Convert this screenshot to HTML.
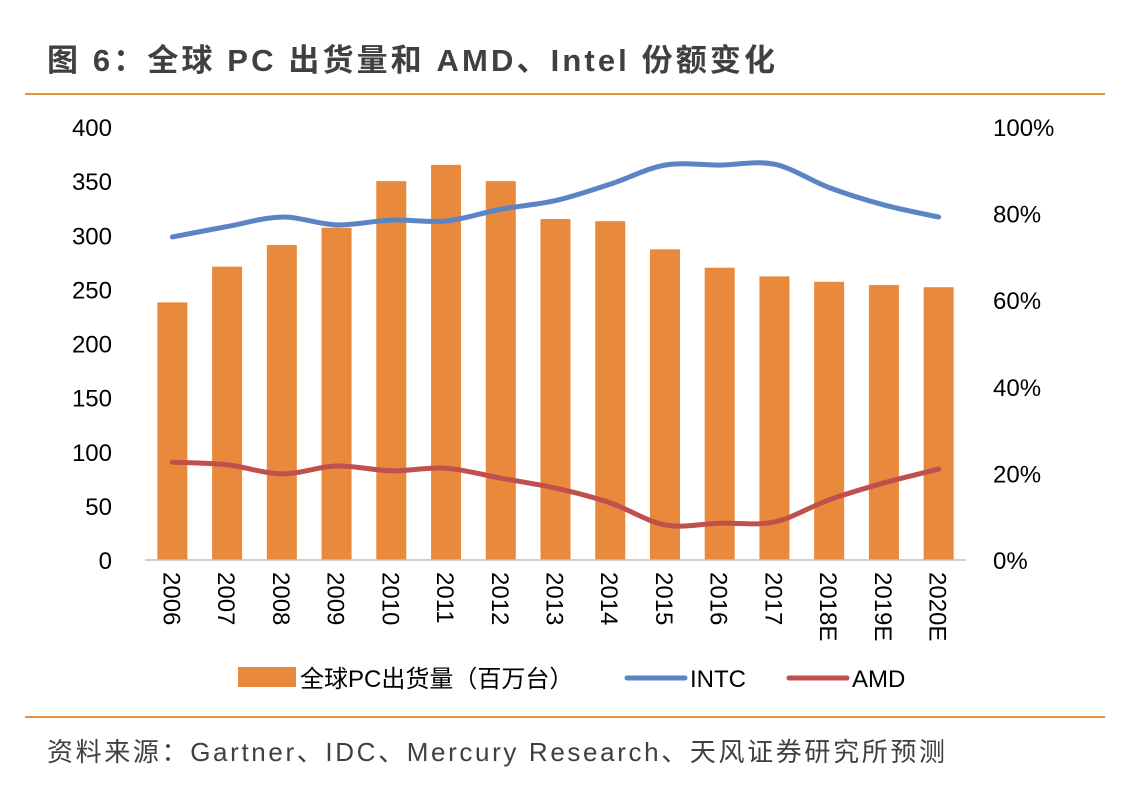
<!DOCTYPE html>
<html><head><meta charset="utf-8">
<style>
body{margin:0;width:1125px;height:805px;background:#fff;font-family:"Liberation Sans","Noto Sans CJK SC",sans-serif;overflow:hidden}
</style></head>
<body>
<svg width="1125" height="805" xmlns="http://www.w3.org/2000/svg" id="chart">
<text x="47" y="71" font-size="31" font-weight="bold" fill="#404040" textLength="728" lengthAdjust="spacing" font-family="Liberation Sans,Noto Sans CJK SC,sans-serif">图 6：全球 PC 出货量和 AMD、Intel 份额变化</text>
<line x1="25" y1="94" x2="1105" y2="94" stroke="#E8913B" stroke-width="2"/>
<line x1="25" y1="717" x2="1105" y2="717" stroke="#E8913B" stroke-width="2"/>
<text x="47" y="761" font-size="26" fill="#404040" textLength="898" lengthAdjust="spacing" font-family="Liberation Sans,Noto Sans CJK SC,sans-serif">资料来源：Gartner、IDC、Mercury Research、天风证券研究所预测</text>
<g id="plot"></g>
<g id="legend">
<rect x="238" y="667" width="58" height="20" fill="#E8893B"/>
<text x="300" y="687" font-size="24" fill="#000">全球PC出货量（百万台）</text>
<line x1="627" y1="678" x2="685" y2="678" stroke="#5B84C4" stroke-width="5" stroke-linecap="round"/>
<text x="690" y="687" font-size="24" fill="#000">INTC</text>
<line x1="789" y1="678" x2="847" y2="678" stroke="#C0504D" stroke-width="5" stroke-linecap="round"/>
<text x="852" y="687" font-size="24" fill="#000">AMD</text>
</g>
</svg>
<script>
const categories=["2006","2007","2008","2009","2010","2011","2012","2013","2014","2015","2016","2017","2018E","2019E","2020E"];
const shipments=[238,271,291,307,350,365,350,315,313,287,270,262,257,254,252];
const intc=[74.6,77,79.2,77.4,78.5,78.3,81,83,86.8,91.2,91.2,91.4,86,82,79.2];
const amd=[22.6,22,19.9,21.7,20.6,21.2,18.9,16.6,13.2,8.1,8.5,8.8,13.9,17.8,21];
const leftTicks=[0,50,100,150,200,250,300,350,400];
const rightTicks=[0,20,40,60,80,100];
const NS="http://www.w3.org/2000/svg";
const g=document.getElementById('plot');
const x0=145,x1=966,yB=560,yT=127;
const step=(x1-x0)/categories.length;
const xc=i=>x0+step*(i+0.5);
const yL=v=>yB-(v/400)*(yB-yT);
const yR=v=>yB-(v/100)*(yB-yT);
function mk(t,a){const e=document.createElementNS(NS,t);for(const k in a)e.setAttribute(k,a[k]);g.appendChild(e);return e;}
leftTicks.forEach(v=>{const t=mk('text',{x:112,y:yL(v)+9,'font-size':24,'text-anchor':'end',fill:'#000'});t.textContent=v;

});
rightTicks.forEach(v=>{const t=mk('text',{x:993,y:yR(v)+9,'font-size':24,fill:'#000'});t.textContent=v+'%';

});
shipments.forEach((v,i)=>{const r=mk('rect',{x:xc(i)-15,y:yL(v),width:30,height:yB-yL(v),fill:'#E8893B'});

});
const ax=mk('line',{x1:x0,y1:yB,x2:x1,y2:yB,stroke:'#BFBFBF','stroke-width':1.5});


categories.forEach((c,i)=>{const t=mk('text',{x:0,y:0,'font-size':24,fill:'#000','text-anchor':'start',transform:`translate(${xc(i)-9},${yB+12}) rotate(90)`});t.textContent=c;

});
function smooth(vals){const p=vals.map((v,i)=>[xc(i),yR(v)]);let d=`M${p[0][0]},${p[0][1]}`;
for(let i=0;i<p.length-1;i++){const a=p[i-1]||p[i],b=p[i],c=p[i+1],e=p[i+2]||c;
d+=` C${b[0]+(c[0]-a[0])/6},${b[1]+(c[1]-a[1])/6} ${c[0]-(e[0]-b[0])/6},${c[1]-(e[1]-b[1])/6} ${c[0]},${c[1]}`;}return d;}
const li=mk('path',{d:smooth(intc),fill:'none',stroke:'#5B84C4','stroke-width':5,'stroke-linecap':'round'});


const la=mk('path',{d:smooth(amd),fill:'none',stroke:'#C0504D','stroke-width':5,'stroke-linecap':'round'});


</script>
</body></html>
